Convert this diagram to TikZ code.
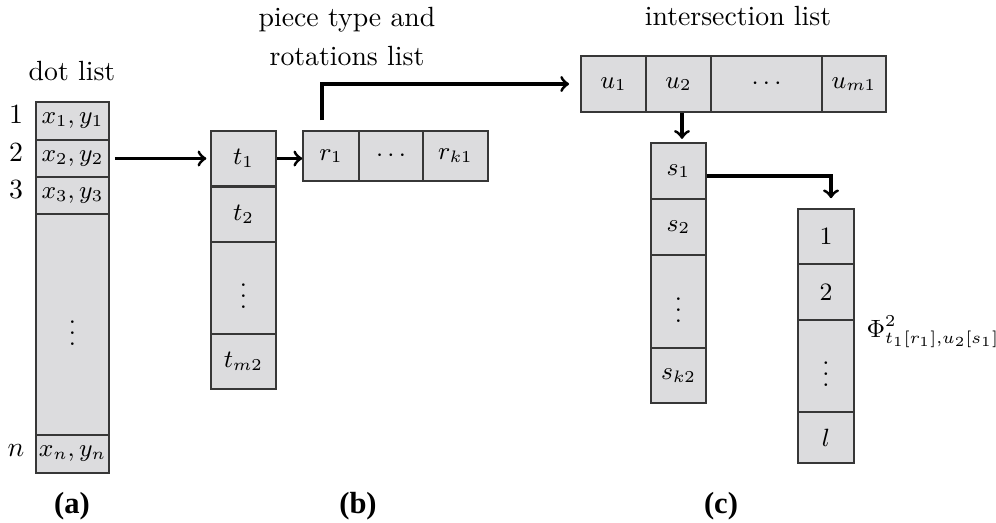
\documentclass[tikz,border=0pt]{standalone}
\usepackage{fontspec}
\newfontfamily\lblfont{Liberation Serif}
\definecolor{cellfill}{RGB}{220,220,222}
\definecolor{celledge}{RGB}{55,55,55}
\tikzset{
  cell/.style 2 args={draw=celledge, line width=0.55pt, fill=cellfill, inner sep=0pt,
    font=\small, minimum width=#1*0.36pt, minimum height=#2*0.36pt},
  txt/.style={inner sep=0pt, anchor=base},
  capstyle/.style={inner sep=0pt, anchor=base, font=\lblfont\fontsize{11}{13}\selectfont\bfseries},
  arr/.style={->, line width=1.1pt},
}
\begin{document}
\begin{tikzpicture}[x=0.36pt,y=-0.36pt]
\useasboundingbox (0,0) rectangle (996,522);
\fill[white] (0,0) rectangle (996,522);
% (a) dot list
\node[cell={73}{38}] (d1) at (72.5,121) {$x_1,y_1$};
\node[cell={73}{37}] (d2) at (72.5,158.5) {$x_2,y_2$};
\node[cell={73}{37}] (d3) at (72.5,195.5) {$x_3,y_3$};
\node[cell={73}{221}] (dv) at (72.5,324.5) {$\vdots$};
\node[cell={73}{38}] (dn) at (72.5,454) {$x_n,y_n$};
\coordinate (colnum) at (16,0);
\node[txt] (n1) at (d1.base -| colnum) {$1$};
\node[txt] (n2) at (d2.base -| colnum) {$2$};
\node[txt] (n3) at (d3.base -| colnum) {$3$};
\node[txt] (nn) at (dn.base -| colnum) {$n$};
\node[txt] (tdot) at (72,80) {dot list};
% (b) type list
\node[cell={65}{55}] (t1) at (243.5,158.5) {$t_1$};
\node[cell={65}{55}] (t2) at (243.5,214.5) {$t_2$};
\node[cell={65}{92}] (tv) at (243.5,288) {$\vdots$};
\node[cell={65}{55}] (tm) at (243.5,361.5) {$t_{m2}$};
% rotations
\node[cell={56}{50}] (r1) at (331,156) {$r_1$};
\node[cell={64}{50}] (rd) at (391,156) {$\cdots$};
\node[cell={65}{50}] (rk) at (455.5,156) {$r_{k1}$};
\node[txt] (tp1) at (347,26) {piece type and};
\node[txt] (tp2) at (347,65) {rotations list};
% (c) intersection list
\node[cell={65}{56}] (u1) at (613.5,84) {$u_1$};
\node[cell={65}{56}] (u2) at (678.5,84) {$u_2$};
\node[cell={111}{56}] (ud) at (766.5,84) {$\cdots$};
\node[cell={64}{56}] (um) at (854,84) {$u_{m1}$};
\node[txt] (tint) at (738,25) {intersection list};
\node[cell={55}{56}] (s1) at (678.5,171) {$s_1$};
\node[cell={55}{56}] (s2) at (678.5,227) {$s_2$};
\node[cell={55}{93}] (sv) at (678.5,301.5) {$\vdots$};
\node[cell={55}{55}] (sk) at (678.5,375.5) {$s_{k2}$};
\node[cell={56}{55}] (l1) at (826,236.5) {$1$};
\node[cell={56}{56}] (l2) at (826,292) {$2$};
\node[cell={56}{92}] (lv) at (826,366) {$\vdots$};
\node[cell={56}{51}] (ll) at (826,437.5) {$l$};
\node[inner sep=0pt, anchor=base west, font=\small] (phi) at (866,337) {$\Phi^2_{t_1[r_1],u_2[s_1]}$};
% captions
\node[capstyle] (la) at (72,513) {(a)};
\node[capstyle] (lb) at (358,513) {(b)};
\node[capstyle] (lc) at (721,513) {(c)};
% connectors
\draw[arr, shorten <=1.8pt, shorten >=1.4pt] (d2.east) -- (d2.east -| t1.west);
\draw[arr] (t1.east) -- (t1.east -| r1.west);
\coordinate (rs) at (322,120);
\draw[arr, shorten >=4pt] (rs) |- (u1.west);
\coordinate (ux) at (682,0);
\draw[arr, shorten >=1.2pt] (u2.south -| ux) -- (s1.north -| ux);
\coordinate (lx) at (831,0);
\coordinate (sy) at (0,176);
\draw[arr, shorten >=3.6pt] (s1.east |- sy) -| (l1.north -| lx);
\end{tikzpicture}
\end{document}
